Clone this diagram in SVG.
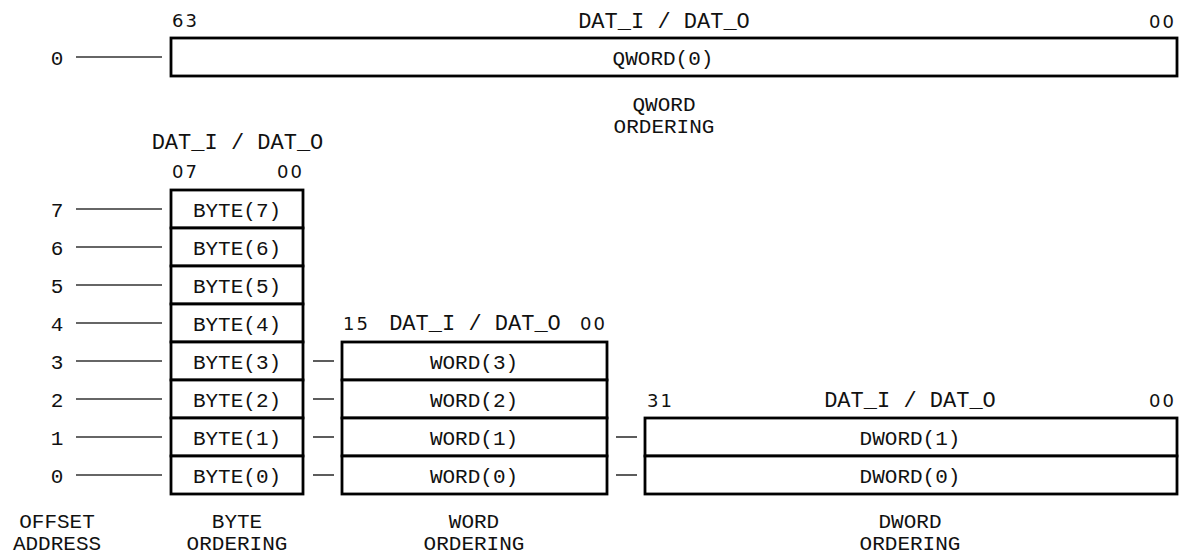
<svg xmlns="http://www.w3.org/2000/svg" width="1182" height="555" viewBox="0 0 1182 555">
<style>
.box{fill:#fff;stroke:#000;stroke-width:2.8}
.t{font-family:"Liberation Mono","Courier New",monospace;font-size:21px;fill:#111;text-anchor:middle}
.h{font-family:"Liberation Mono","Courier New",monospace;font-size:22px;fill:#111;text-anchor:middle}
.n{font-family:"DejaVu Sans","Noto Sans",sans-serif;font-size:18px;fill:#111;letter-spacing:2px}
.e{text-anchor:end}
.ln{stroke:#333;stroke-width:1.6;fill:none}
</style>
<rect width="1182" height="555" fill="#fff"/>

<g id="connectors">
  <line class="ln" x1="76" y1="57" x2="162" y2="57"/>
  <line class="ln" x1="76" y1="209" x2="162" y2="209"/>
  <line class="ln" x1="76" y1="247" x2="162" y2="247"/>
  <line class="ln" x1="76" y1="285" x2="162" y2="285"/>
  <line class="ln" x1="76" y1="323" x2="162" y2="323"/>
  <line class="ln" x1="76" y1="361" x2="162" y2="361"/>
  <line class="ln" x1="76" y1="399" x2="162" y2="399"/>
  <line class="ln" x1="76" y1="437" x2="162" y2="437"/>
  <line class="ln" x1="76" y1="475" x2="162" y2="475"/>
  <line class="ln" x1="313" y1="361" x2="334" y2="361"/>
  <line class="ln" x1="313" y1="399" x2="334" y2="399"/>
  <line class="ln" x1="313" y1="437" x2="334" y2="437"/>
  <line class="ln" x1="313" y1="475" x2="334" y2="475"/>
  <line class="ln" x1="616" y1="437" x2="637" y2="437"/>
  <line class="ln" x1="616" y1="475" x2="637" y2="475"/>
</g>

<g id="offsets">
  <text class="t" x="57" y="65">0</text>
  <text class="t" x="57" y="217">7</text>
  <text class="t" x="57" y="255">6</text>
  <text class="t" x="57" y="293">5</text>
  <text class="t" x="57" y="331">4</text>
  <text class="t" x="57" y="369">3</text>
  <text class="t" x="57" y="407">2</text>
  <text class="t" x="57" y="445">1</text>
  <text class="t" x="57" y="483">0</text>
  <text class="t" x="57" y="528">OFFSET</text>
  <text class="t" x="57" y="550">ADDRESS</text>
</g>

<g id="qword">
  <text class="n" x="172" y="27">63</text>
  <text class="h" x="664" y="28">DAT_I / DAT_O</text>
  <text class="n e" x="1176" y="28">00</text>
  <rect class="box" x="171" y="38" width="1006" height="38"/>
  <text class="t" x="663" y="65">QWORD(0)</text>
  <text class="t" x="664" y="111">QWORD</text>
  <text class="t" x="664" y="133">ORDERING</text>
</g>

<g id="byte">
  <text class="h" x="237.5" y="149">DAT_I / DAT_O</text>
  <text class="n" x="172" y="178">07</text>
  <text class="n e" x="304" y="178">00</text>
  <rect class="box" x="171" y="190" width="132" height="38"/>
  <rect class="box" x="171" y="228" width="132" height="38"/>
  <rect class="box" x="171" y="266" width="132" height="38"/>
  <rect class="box" x="171" y="304" width="132" height="38"/>
  <rect class="box" x="171" y="342" width="132" height="38"/>
  <rect class="box" x="171" y="380" width="132" height="38"/>
  <rect class="box" x="171" y="418" width="132" height="38"/>
  <rect class="box" x="171" y="456" width="132" height="38"/>
  <text class="t" x="237" y="217">BYTE(7)</text>
  <text class="t" x="237" y="255">BYTE(6)</text>
  <text class="t" x="237" y="293">BYTE(5)</text>
  <text class="t" x="237" y="331">BYTE(4)</text>
  <text class="t" x="237" y="369">BYTE(3)</text>
  <text class="t" x="237" y="407">BYTE(2)</text>
  <text class="t" x="237" y="445">BYTE(1)</text>
  <text class="t" x="237" y="483">BYTE(0)</text>
  <text class="t" x="237" y="528">BYTE</text>
  <text class="t" x="237" y="550">ORDERING</text>
</g>

<g id="word">
  <text class="n" x="343" y="330">15</text>
  <text class="h" x="475" y="330">DAT_I / DAT_O</text>
  <text class="n e" x="607" y="330">00</text>
  <rect class="box" x="342" y="342" width="265" height="38"/>
  <rect class="box" x="342" y="380" width="265" height="38"/>
  <rect class="box" x="342" y="418" width="265" height="38"/>
  <rect class="box" x="342" y="456" width="265" height="38"/>
  <text class="t" x="474" y="369">WORD(3)</text>
  <text class="t" x="474" y="407">WORD(2)</text>
  <text class="t" x="474" y="445">WORD(1)</text>
  <text class="t" x="474" y="483">WORD(0)</text>
  <text class="t" x="474" y="528">WORD</text>
  <text class="t" x="474" y="550">ORDERING</text>
</g>

<g id="dword">
  <text class="n" x="647" y="407">31</text>
  <text class="h" x="910" y="407">DAT_I / DAT_O</text>
  <text class="n e" x="1176" y="407">00</text>
  <rect class="box" x="645" y="418" width="532" height="38"/>
  <rect class="box" x="645" y="456" width="532" height="38"/>
  <text class="t" x="910" y="445">DWORD(1)</text>
  <text class="t" x="910" y="483">DWORD(0)</text>
  <text class="t" x="910" y="528">DWORD</text>
  <text class="t" x="910" y="550">ORDERING</text>
</g>
</svg>
